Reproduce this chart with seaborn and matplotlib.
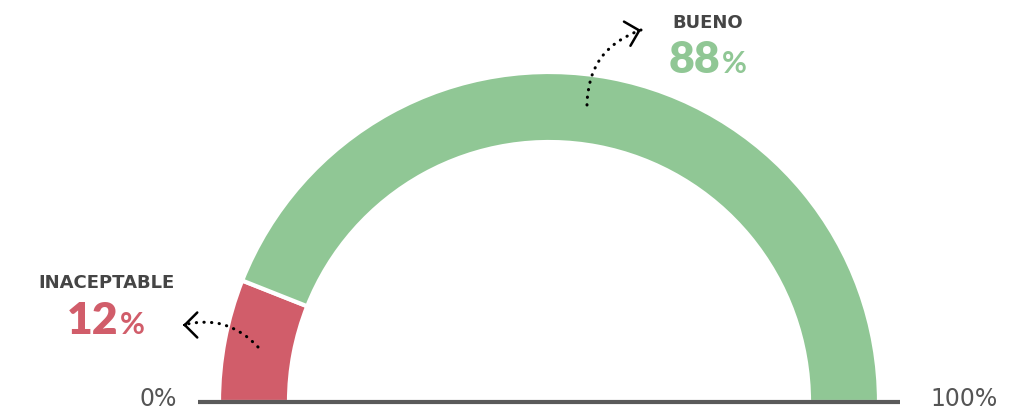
import numpy as np
import matplotlib
matplotlib.use("Agg")
import matplotlib.pyplot as plt
import seaborn as sns

# Gauge data
categories = ["INACEPTABLE", "BUENO"]
shares = [12, 88]
colors = ["#D15D6A", "#90C795"]
scale_labels = ["0%", "100%"]

sns.set_theme(style="white")
plt.rcParams["font.family"] = ["DejaVu Sans"]

W, H = 1024, 412
fig = plt.figure(figsize=(W / 100, H / 100), dpi=100)
ax = fig.add_axes([0, 0, 1, 1])

cx, cy = 549, 10
r_out, ring = 330, 70

# Semi-circle gauge: the hidden half keeps the visible half to 180 degrees
wedges, _ = ax.pie(
    shares + [sum(shares)],
    colors=colors + ["none"],
    startangle=180,
    counterclock=False,
    center=(cx, cy),
    radius=r_out,
    wedgeprops=dict(width=ring, edgecolor="white", linewidth=3),
    frame=False,
)
wedges[-1].set_visible(False)

ax.set_xlim(0, W)
ax.set_ylim(0, H)
ax.set_aspect("equal")
ax.set_axis_off()

# Baseline
ax.plot([198, 900], [cy, cy], color="#5a5a5a", lw=3, solid_capstyle="butt", zorder=5)

grey = "#454545"
ax.text(177, 6, scale_labels[0], ha="right", va="baseline", fontsize=17,
        fontweight="normal", color="#555555")
ax.text(930, 6, scale_labels[1], ha="left", va="baseline", fontsize=17,
        fontweight="normal", color="#555555")


def value_label(x_mid, y_cap, y_base, name, value, color):
    ax.text(x_mid, y_cap, name, ha="center", va="center", fontsize=13,
            fontweight="bold", color=grey)
    ax.text(x_mid + 12, y_base, f"{value}", ha="right", va="baseline",
            fontsize=32, fontfamily="Lato", fontweight="heavy", color=color)
    ax.text(x_mid + 14, y_base, "%", ha="left", va="baseline",
            fontsize=22, fontfamily="Lato", fontweight="bold", color=color)


value_label(106, H - 283.5, H - 334, categories[0], shares[0], colors[0])
value_label(708, H - 22.5, H - 73, categories[1], shares[1], colors[1])


def curved_pointer(start, end, rad, head_deg):
    ax.annotate("", xy=end, xytext=start,
                arrowprops=dict(arrowstyle="-", color="black", lw=2.2,
                                linestyle=(0, (0.1, 2.4)), capstyle="round",
                                connectionstyle=f"arc3,rad={rad}",
                                shrinkA=0, shrinkB=0))
    # open chevron head at the end, pointing along head_deg
    d = np.array([np.cos(np.radians(head_deg)), np.sin(np.radians(head_deg))])
    tail = np.array(end) - d * 3
    ax.annotate("", xy=end, xytext=tuple(tail),
                arrowprops=dict(arrowstyle="->,head_length=0.75,head_width=0.75",
                                color="black", lw=1.8, shrinkA=0, shrinkB=0))


curved_pointer((258, H - 347), (183, H - 325), 0.3, 180)
curved_pointer((587, H - 105), (641, H - 30), -0.35, 15)

fig.savefig("out.png", dpi=100)
